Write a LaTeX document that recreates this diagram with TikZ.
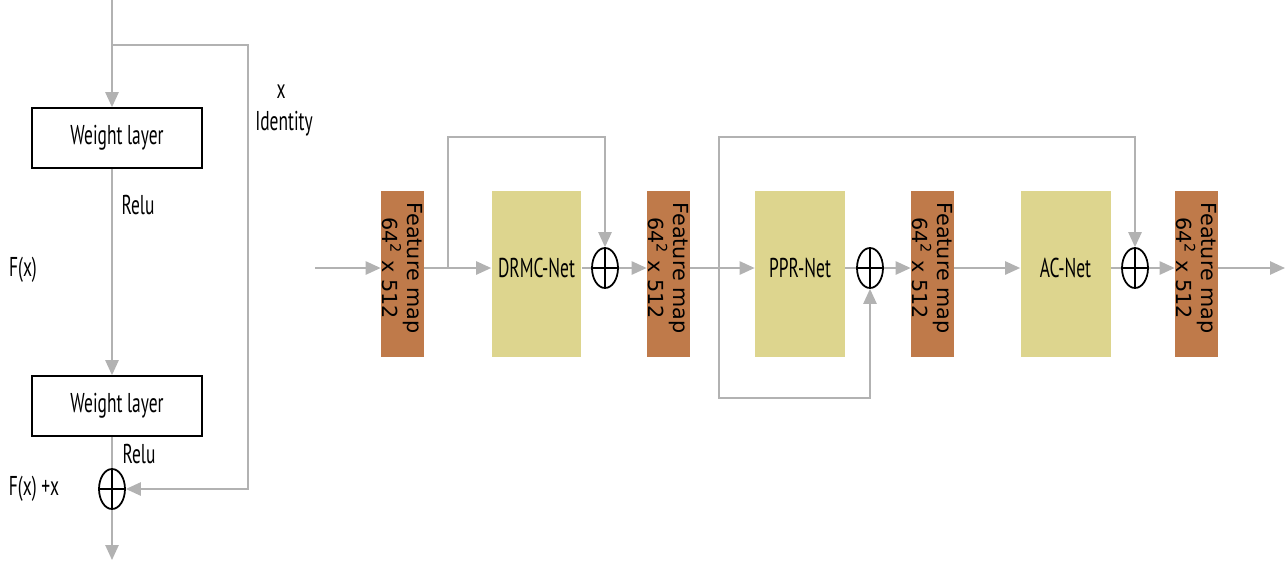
\documentclass[tikz,border=0pt]{standalone}
\usepackage{fontspec}
\setmainfont{PT Sans}[FakeStretch=0.64]
\newfontfamily\fmfont{DejaVu Sans}
\usetikzlibrary{arrows.meta,shapes.geometric}
\definecolor{linegray}{RGB}{178,178,178}
\definecolor{fmbrown}{RGB}{191,122,74}
\definecolor{netyellow}{RGB}{221,213,142}
\tikzset{
	conn/.style={draw=linegray,line width=1.1pt},
	arr/.style={conn,-{Triangle[length=8.5pt,width=7.5pt]}},
	lbl/.style={font=\fontsize{15.5}{17}\selectfont},
	weightbox/.style={lbl,draw=black,line width=1pt,minimum width=3.4cm,minimum height=1.2cm},
	fmap/.style={fill=fmbrown,minimum width=0.86cm,minimum height=3.32cm,inner sep=0pt},
	fmtext/.style={rotate=-90,align=center,inner sep=0pt,font=\fmfont\fontsize{11.8}{10.8}\selectfont},
	netbox/.style={fill=netyellow,minimum width=1.8cm,minimum height=3.32cm},
	sumnode/.style={ellipse,draw=black,line width=1pt,minimum width=0.52cm,minimum height=0.8cm,inner sep=0pt,
		path picture={\draw[black,line width=1pt] (path picture bounding box.north) -- (path picture bounding box.south)
			(path picture bounding box.west) -- (path picture bounding box.east);}}
}

\begin{document}
\begin{tikzpicture}[x=0.02cm,y=-0.02cm]
	\useasboundingbox (0,0) rectangle (1288,562);
	% residual block
	\coordinate (in) at (112,0);
	\coordinate (br) at (112,45);
	\coordinate (idtop) at (248,45);
	\coordinate (idbot) at (248,489);
	\coordinate (out) at (112,560);
	\node[weightbox] (w1) at (117,138) {Weight layer};
	\node[weightbox] (w2) at (117,406) {Weight layer};
	\node[sumnode] (s0) at (112,489) {};
	\node[lbl] (relu1) at (138,205) {Relu};
	\node[lbl] (relu2) at (139,454) {Relu};
	\node[lbl] (fx) at (23,270) {F(x)};
	\node[lbl] (fxx) at (34,489) {F(x) +x};
	\node[lbl] (xlab) at (281,92) {x};
	\node[lbl] (ident) at (284,124) {Identity};
	\draw[arr] (in) -- (in |- w1.north);
	\draw[arr] (in |- w1.south) -- (in |- w2.north);
	\draw[conn] (in |- w2.south) -- (s0);
	\draw[arr] (s0) -- (out);
	\draw[arr] (br) -- (idtop) -- (idbot) -- (s0);

	% network
	\coordinate (row) at (0,268);
	\coordinate (start) at (315,268);
	\coordinate (end) at (1285,268);
	\coordinate (b1) at (448,268);
	\coordinate (b1top) at (448,137);
	\coordinate (top1) at (605,137);
	\coordinate (b2) at (719,268);
	\coordinate (b2top) at (719,137);
	\coordinate (top3) at (1135,137);
	\coordinate (b2bot) at (719,398);
	\coordinate (bot2) at (870,398);
	\node[fmap] (fm1) at (402.5,274) {};
	\node[fmtext] (fm1txt) at (fm1 |- row) {Feature map\\64\textsuperscript{2} x 512};
	\node[netbox] (drmc) at (536.5,274) {};
	\node[lbl] (drmctxt) at (drmc |- row) {DRMC-Net};
	\node[sumnode] (s1) at (605,268) {};
	\node[fmap] (fm2) at (668.5,274) {};
	\node[fmtext] (fm2txt) at (fm2 |- row) {Feature map\\64\textsuperscript{2} x 512};
	\node[netbox] (ppr) at (800,274) {};
	\node[lbl] (pprtxt) at (ppr |- row) {PPR-Net};
	\node[sumnode] (s2) at (870,268) {};
	\node[fmap] (fm3) at (932.5,274) {};
	\node[fmtext] (fm3txt) at (fm3 |- row) {Feature map\\64\textsuperscript{2} x 512};
	\node[netbox] (ac) at (1065.5,274) {};
	\node[lbl] (actxt) at (ac |- row) {AC-Net};
	\node[sumnode] (s3) at (1135,268) {};
	\node[fmap] (fm4) at (1196.5,274) {};
	\node[fmtext] (fm4txt) at (fm4 |- row) {Feature map\\64\textsuperscript{2} x 512};

	\draw[arr] (start) -- (fm1.west |- row);
	\draw[arr] (fm1.east |- row) -- (drmc.west |- row);
	\draw[arr] (b1) -- (b1top) -- (top1) -- (s1);
	\draw[conn] (drmc.east |- row) -- (s1);
	\draw[arr] (s1) -- (fm2.west |- row);
	\draw[arr] (fm2.east |- row) -- (ppr.west |- row);
	\draw[arr] (b2) -- (b2top) -- (top3) -- (s3);
	\draw[arr] (b2) -- (b2bot) -- (bot2) -- (s2);
	\draw[conn] (ppr.east |- row) -- (s2);
	\draw[arr] (s2) -- (fm3.west |- row);
	\draw[arr] (fm3.east |- row) -- (ac.west |- row);
	\draw[conn] (ac.east |- row) -- (s3);
	\draw[arr] (s3) -- (fm4.west |- row);
	\draw[arr] (fm4.east |- row) -- (end);
\end{tikzpicture}
\end{document}
